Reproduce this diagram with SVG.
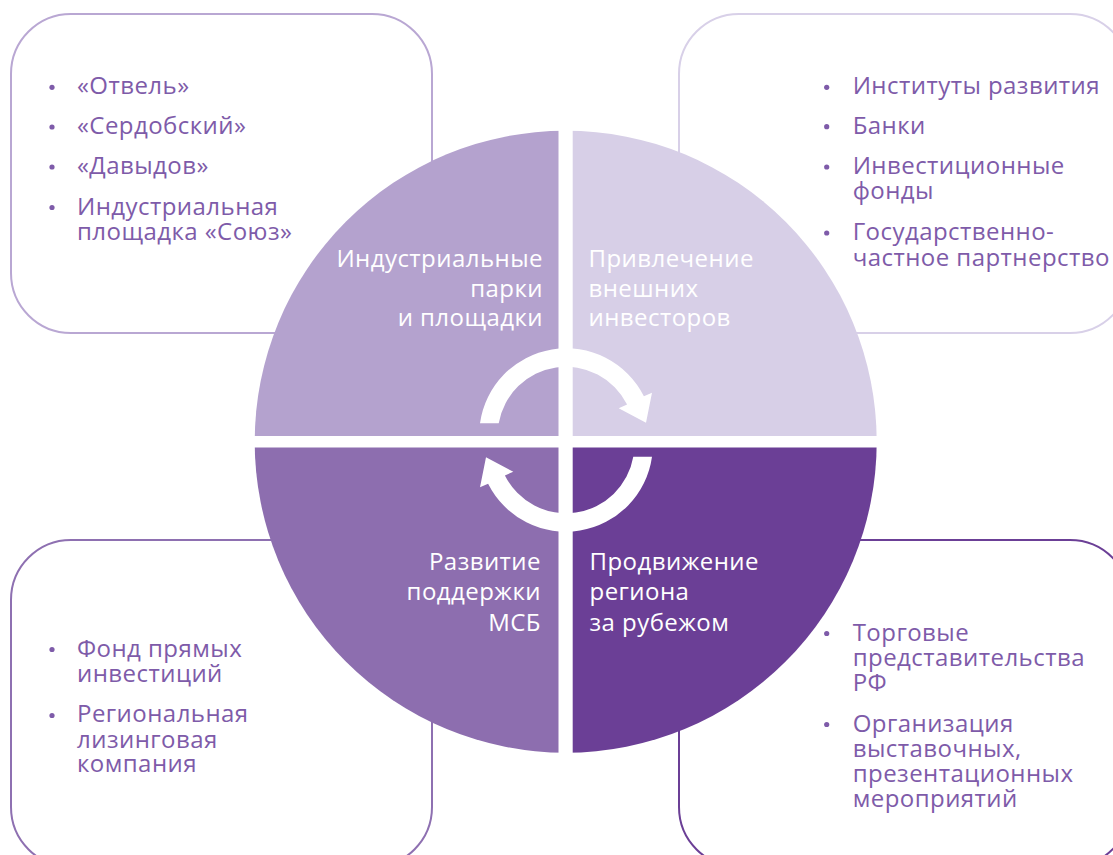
<svg xmlns="http://www.w3.org/2000/svg" width="1113" height="855" viewBox="0 0 1113 855">
<style>
.box{fill:#ffffff;stroke-width:2}
.t{font-family:"Open Sans","Noto Sans","DejaVu Sans",sans-serif;font-size:24px;letter-spacing:0.45px;fill:#7E5BA9}
.w{font-family:"Open Sans","Noto Sans","DejaVu Sans",sans-serif;font-size:24px;letter-spacing:0.45px;fill:#ffffff}
.r{text-anchor:end}
.b{fill:#7E5BA9}
.arrow{fill:#ffffff}
</style>
<defs>
<clipPath id="disc"><circle cx="565.7" cy="441.7" r="311"/></clipPath>
<path id="arr" d="M 480 423.3 A 87 87 0 0 1 643.9 396.2 L 652 392.7 L 646 422.7 L 618.7 408.3 L 627.1 404.5 A 68.3 68.3 0 0 0 498.7 423.3 Z"/>
</defs>
<rect width="1113" height="855" fill="#ffffff"/>

<g id="box-parks">
<rect class="box" x="11" y="14" width="421" height="319" rx="60" stroke="#B9A7D3"/>
<circle class="b" cx="52" cy="87.3" r="2.6"/>
<circle class="b" cx="52" cy="127" r="2.6"/>
<circle class="b" cx="52" cy="167" r="2.6"/>
<circle class="b" cx="52" cy="207.5" r="2.6"/>
<text class="t" x="77" y="94.3">«Отвель»</text>
<text class="t" x="77" y="134">«Сердобский»</text>
<text class="t" x="77" y="174">«Давыдов»</text>
<text class="t" x="77" y="214.5">Индустриальная</text>
<text class="t" x="77" y="239.5">площадка «Союз»</text>
</g>

<g id="box-investors">
<rect class="box" x="679" y="14" width="451" height="319" rx="60" stroke="#D8D0E8"/>
<circle class="b" cx="826.7" cy="87.3" r="2.6"/>
<circle class="b" cx="826.7" cy="126.7" r="2.6"/>
<circle class="b" cx="826.7" cy="167" r="2.6"/>
<circle class="b" cx="826.7" cy="233" r="2.6"/>
<text class="t" x="852.7" y="94">Институты развития</text>
<text class="t" x="852.7" y="133.5">Банки</text>
<text class="t" x="852.7" y="174">Инвестиционные</text>
<text class="t" x="852.7" y="199">фонды</text>
<text class="t" x="852.7" y="240">Государственно-</text>
<text class="t" x="852.7" y="265.5">частное партнерство</text>
</g>

<g id="box-sme">
<rect class="box" x="11" y="540" width="421" height="327" rx="60" stroke="#8E70B1"/>
<circle class="b" cx="52" cy="649.5" r="2.6"/>
<circle class="b" cx="52" cy="715.5" r="2.6"/>
<text class="t" x="77" y="656.7">Фонд прямых</text>
<text class="t" x="77" y="681.7">инвестиций</text>
<text class="t" x="77" y="722.3">Региональная</text>
<text class="t" x="77" y="747.5">лизинговая</text>
<text class="t" x="77" y="772.3">компания</text>
</g>

<g id="box-promotion">
<rect class="box" x="679" y="540" width="451" height="327" rx="60" stroke="#6B3F96"/>
<circle class="b" cx="826.7" cy="633.5" r="2.6"/>
<circle class="b" cx="826.7" cy="724.5" r="2.6"/>
<text class="t" x="852.7" y="640.7">Торговые</text>
<text class="t" x="852.7" y="665.7">представительства</text>
<text class="t" x="852.7" y="690.5">РФ</text>
<text class="t" x="852.7" y="731.7">Организация</text>
<text class="t" x="852.7" y="756.7">выставочных,</text>
<text class="t" x="852.7" y="781.7">презентационных</text>
<text class="t" x="852.7" y="806.7">мероприятий</text>
</g>

<g id="quadrant-parks">
<rect x="250" y="125" width="308.5" height="311" fill="#B4A2CE" clip-path="url(#disc)"/>
<text class="w r" x="543" y="267.3">Индустриальные</text>
<text class="w r" x="543" y="296.5">парки</text>
<text class="w r" x="543" y="325.7">и площадки</text>
</g>

<g id="quadrant-investors">
<rect x="572.7" y="125" width="310" height="311" fill="#D7CFE7" clip-path="url(#disc)"/>
<text class="w" x="588.5" y="267.3">Привлечение</text>
<text class="w" x="588.5" y="296.5">внешних</text>
<text class="w" x="588.5" y="325.7">инвесторов</text>
</g>

<g id="quadrant-sme">
<rect x="250" y="447.5" width="308.5" height="310" fill="#8D6EAF" clip-path="url(#disc)"/>
<text class="w r" x="541" y="570">Развитие</text>
<text class="w r" x="541" y="600.3">поддержки</text>
<text class="w r" x="541" y="630.5">МСБ</text>
</g>

<g id="quadrant-promotion">
<rect x="572.7" y="447.5" width="310" height="310" fill="#6B3F96" clip-path="url(#disc)"/>
<text class="w" x="589.5" y="570">Продвижение</text>
<text class="w" x="589.5" y="600.3">региона</text>
<text class="w" x="589.5" y="630.5">за рубежом</text>
</g>

<g id="connectors">
<use href="#arr" class="arrow"/>
<use href="#arr" class="arrow" transform="rotate(180 566 440)"/>
</g>
</svg>
